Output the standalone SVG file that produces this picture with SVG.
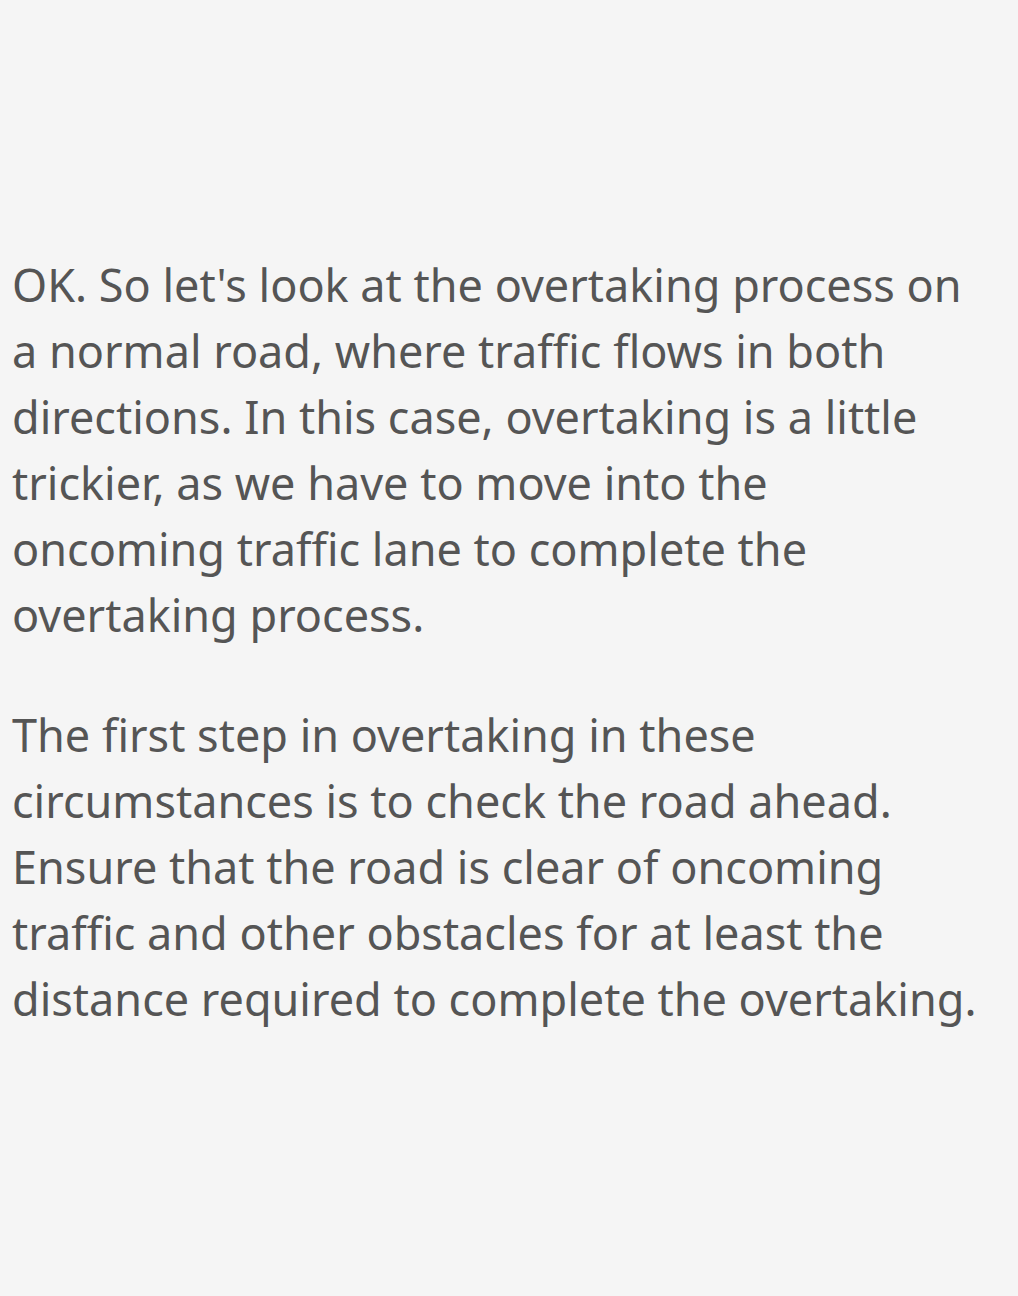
<svg xmlns="http://www.w3.org/2000/svg" width="1018" height="1296" viewBox="0 0 1018 1296">
<style>
.t{font-family:"Noto Sans","Open Sans",sans-serif;font-size:45px;fill:#555555}
</style>
<rect width="1018" height="1296" fill="#f5f5f5"/>
<g id="paragraph1" class="t">
<text x="12" y="302">OK. So let's look at the overtaking process on</text>
<text x="12" y="368">a normal road, where traffic flows in both</text>
<text x="12" y="434">directions. In this case, overtaking is a little</text>
<text x="12" y="500">trickier, as we have to move into the</text>
<text x="12" y="566">oncoming traffic lane to complete the</text>
<text x="12" y="632">overtaking process.</text>
</g>
<g id="paragraph2" class="t">
<text x="12" y="752">The first step in overtaking in these</text>
<text x="12" y="818">circumstances is to check the road ahead.</text>
<text x="12" y="884">Ensure that the road is clear of oncoming</text>
<text x="12" y="950">traffic and other obstacles for at least the</text>
<text x="12" y="1016">distance required to complete the overtaking.</text>
</g>
</svg>
